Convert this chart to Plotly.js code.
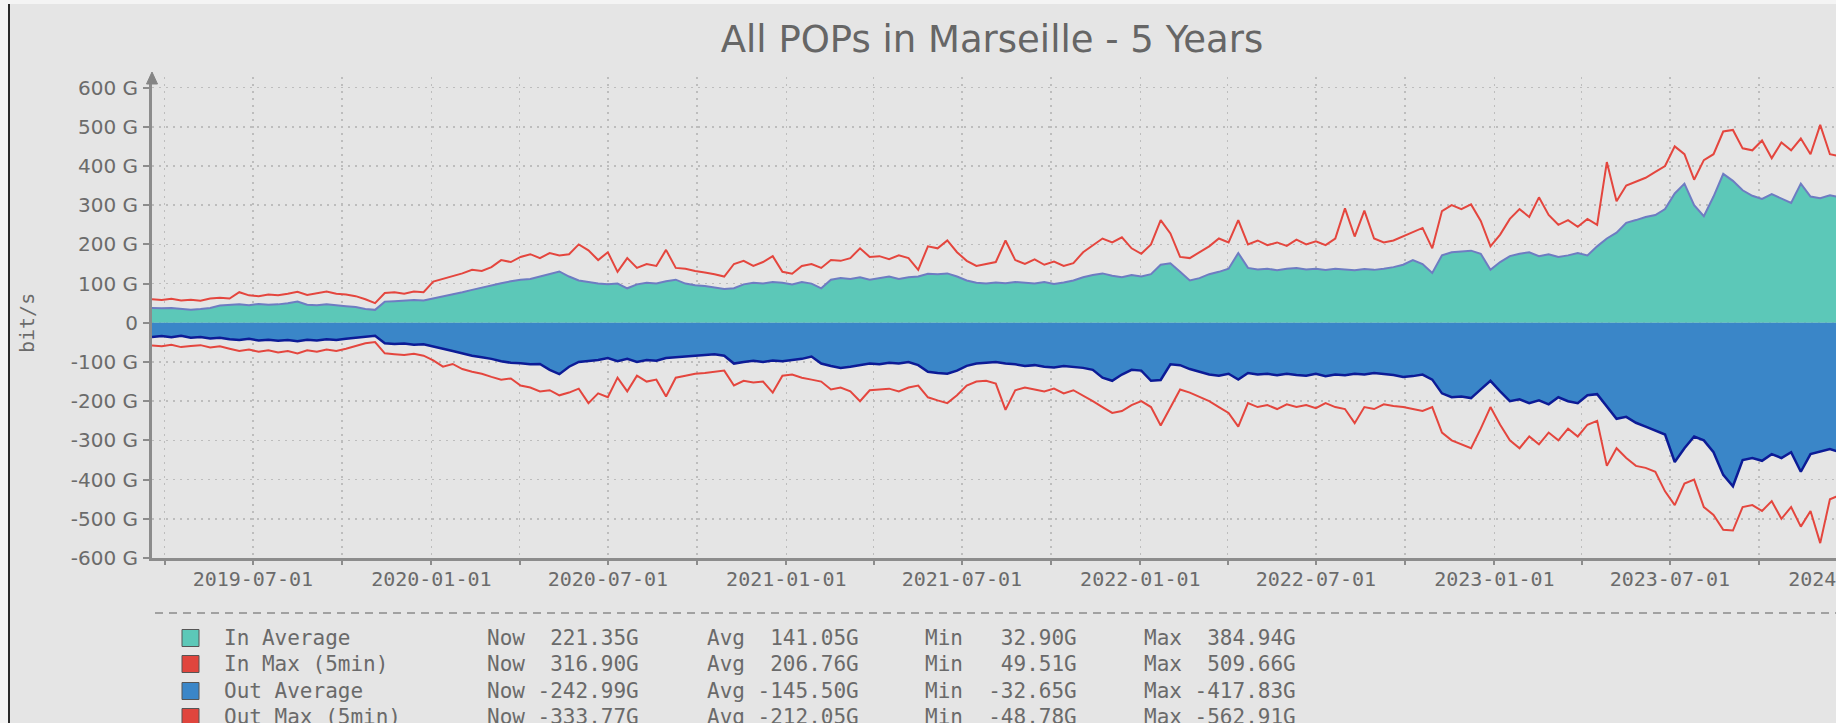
<!DOCTYPE html>
<html>
<head>
<meta charset="utf-8">
<script src="https://cdn.plot.ly/plotly-3.0.1.min.js"></script>
<style>
  html, body { margin: 0; padding: 0; width: 1836px; height: 723px; overflow: hidden; background: #f4f4f4; }
  #frame { position: absolute; left: 10px; top: 4px; width: 1924px; height: 719px; background: #e5e5e5; }
  #edge { position: absolute; left: 8px; top: 4px; width: 2px; height: 719px; background: #2a2a2a; }
  #chart { width: 1924px; height: 719px; }
</style>
</head>
<body>
<div id="frame"><div id="chart"></div></div>
<div id="edge"></div>
<script>
// ---- data (one sample every 10 days from the start date) ----
const startDate = '2019-03-19';
const stepDays = 10;

const inAvg = [
  38, 37, 38, 36, 33, 35, 38, 44, 46, 47,
  45, 48, 46, 47, 50, 54, 46, 45, 47, 44,
  42, 40, 35, 33, 54, 55, 56, 58, 57, 62,
  67, 72, 78, 84, 90, 96, 101, 106, 110, 112,
  118, 124, 131, 118, 108, 104, 100,
  98, 100, 88, 98, 102, 100, 106, 110, 100, 96,
  94, 90, 86, 88, 98, 102, 100, 104, 102, 98,
  104, 100, 88, 110, 114, 112, 116, 110, 114, 118,
  112, 116, 118, 125, 124, 126, 118, 108, 102, 100,
  103, 101, 104, 102, 100, 104, 99, 103, 108, 116,
  122, 126, 120, 116, 122, 118, 124, 148, 152, 130,
  108, 114, 124, 130, 138, 178, 140, 136, 138, 134,
  138, 140, 136, 138, 135, 138, 136, 134, 137, 135,
  138, 142, 148, 160, 150, 127, 172, 180, 182, 184,
  176, 135, 155, 170, 176, 180, 170, 175, 168, 172,
  178, 172, 195, 215, 230, 255, 262, 270, 275, 290,
  330, 355, 300, 272, 322, 380, 362, 338, 324, 316,
  328, 318, 306, 355, 322, 318, 325, 320
];

const inMax = [
  60, 58, 61, 57, 59, 56, 62, 64, 62, 78,
  70, 68, 72, 70, 74, 79, 71, 75, 80, 74,
  72, 68, 60, 50, 76, 78, 74, 80, 78, 105,
  112, 120, 126, 135, 132, 142, 160, 155, 168, 175,
  165, 178, 172, 175, 200, 185, 160,
  180, 130, 165, 140, 150, 145, 186, 140, 138, 132,
  128, 124, 118, 150, 158, 145, 155, 170, 130, 125,
  145, 150, 140, 160, 158, 165, 190, 168, 170, 162,
  172, 165, 135, 195, 190, 210, 180, 158, 145, 150,
  155, 210, 160, 150, 162, 148, 156, 145, 152, 180,
  198, 215, 205, 218, 190, 176, 200, 262, 228, 168,
  165, 180, 195, 215, 205, 262, 200, 210, 198, 205,
  196, 212, 200, 208, 198, 215, 292, 220, 286, 215,
  205, 210, 220, 230, 242, 190, 285, 300, 290, 302,
  260, 195, 225, 265, 290, 270, 320, 275, 250, 262,
  245, 265, 250, 410, 310, 350, 360, 370, 385, 400,
  450, 430, 365, 415, 430, 488, 492, 445, 440, 465,
  420, 460, 440, 470, 430, 505, 430, 425
];

const outAvg = [
  -36, -34, -37, -33, -38, -36, -40, -38, -42, -44,
  -41, -45, -43, -46, -44, -47, -43, -45, -42, -44,
  -41, -38, -35, -33, -52, -54, -53, -56, -55, -60,
  -66, -72, -78, -84, -88, -92, -98, -102, -103, -106,
  -105, -120, -131, -112, -100, -98, -95,
  -90, -98, -92, -100, -95, -97, -90, -88, -86, -84,
  -82, -80, -84, -104, -100, -97, -100, -96, -98, -95,
  -92, -86, -104, -110, -115, -112, -108, -104, -106, -102,
  -104, -100, -108, -125, -128, -130, -122, -110, -104, -102,
  -100, -104, -106, -110, -108, -112, -114, -110, -112, -115,
  -120, -140, -148, -132, -120, -122, -148, -146, -106, -108,
  -118, -125, -132, -135, -130, -145, -128, -132, -130, -134,
  -130, -133, -135, -130, -136, -132, -134, -130, -132, -128,
  -130, -133, -138, -136, -132, -145, -180, -190, -188, -192,
  -170, -148, -175, -200, -195, -205, -198, -208, -190, -200,
  -205, -185, -182, -215, -245, -240, -255, -265, -275, -285,
  -355, -320, -290, -300, -330, -388, -417, -350, -345, -352,
  -335, -345, -330, -380, -335, -328, -322, -330
];

const outMax = [
  -58, -60, -56, -62, -59, -57, -63, -60, -66, -72,
  -68, -74, -70, -76, -72, -78, -70, -74, -68, -72,
  -66, -60, -52, -49, -78, -80, -82, -79, -84, -96,
  -112, -105, -118, -125, -130, -138, -145, -142, -160, -165,
  -175, -172, -185, -178, -168, -205, -180,
  -190, -140, -175, -135, -150, -145, -188, -140, -135, -130,
  -128, -125, -122, -160, -148, -152, -150, -178, -135, -132,
  -140, -145, -150, -170, -165, -175, -200, -172, -170, -168,
  -175, -165, -160, -190, -198, -205, -185, -160, -150, -148,
  -155, -222, -172, -165, -170, -175, -168, -180, -172, -185,
  -200, -215, -230, -225, -210, -200, -215, -262, -215, -170,
  -178, -188, -200, -215, -230, -265, -205, -215, -210, -220,
  -208, -215, -210, -218, -205, -215, -220, -256, -215, -220,
  -208, -212, -215, -220, -225, -215, -280, -300, -310, -320,
  -270, -215, -260, -300, -320, -290, -310, -280, -300, -270,
  -290, -260, -250, -365, -320, -345, -365, -370, -380, -430,
  -465, -410, -400, -470, -490, -528, -530, -470, -465, -480,
  -455, -500, -470, -520, -480, -562, -450, -440
];

const yTickVals = [-600, -500, -400, -300, -200, -100, 0, 100, 200, 300, 400, 500, 600];
const yTickText = ['-600 G', '-500 G', '-400 G', '-300 G', '-200 G', '-100 G', '0',
                   '100 G', '200 G', '300 G', '400 G', '500 G', '600 G'];

const legendNames = ['In Average', 'In Max (5min)', 'Out Average', 'Out Max (5min)'];
const legendColors = ['#5cc8b8', '#e0453d', '#3a86c8', '#e0453d'];
const legendNow = [221.35, 316.90, -242.99, -333.77];
const legendAvg = [141.05, 206.76, -145.50, -212.05];
const legendMin = [32.90, 49.51, -32.65, -48.78];
const legendMax = [384.94, 509.66, -417.83, -562.91];

// ---- dates ----
const t0 = Date.parse(startDate + 'T00:00:00Z');
const dates = inAvg.map((_, i) => new Date(t0 + i * stepDays * 86400000).toISOString().slice(0, 10));

// ---- geometry helpers (page pixels -> paper fractions) ----
const OX = 10, OY = 4;           // frame offset on the page
const L = 142, T = 73, W = 1772, H = 481, R = 10, B = 165;
const px = x => (x - OX - L) / W;
const py = y => (T + H - (y - OY)) / H;

const gray = '#6b6b6b';
const gridStyle = { showgrid: true, gridcolor: '#bdbdbd', gridwidth: 1.5, griddash: '2px,5px' };

const traces = [
  { x: dates, y: inAvg, type: 'scatter', mode: 'lines', fill: 'tozeroy',
    fillcolor: '#5cc8b8', line: { color: '#6e7cc2', width: 2 }, name: legendNames[0] },
  { x: dates, y: outAvg, type: 'scatter', mode: 'lines', fill: 'tozeroy',
    fillcolor: '#3a86c8', line: { color: '#0c1b96', width: 2.5 }, name: legendNames[2] },
  { x: dates, y: inMax, type: 'scatter', mode: 'lines',
    line: { color: '#e4463e', width: 2 }, name: legendNames[1] },
  { x: dates, y: outMax, type: 'scatter', mode: 'lines',
    line: { color: '#e4463e', width: 2 }, name: legendNames[3] }
];

const nb = s => s.replace(/ /g, '\u00a0');
const fmt = (v, w) => (v.toFixed(2) + 'G').padStart(w, ' ');
const rowsY = [638, 664, 691, 717];
const monoFont = { family: 'DejaVu Sans Mono', size: 21, color: '#6a6a6a' };

const annotations = [];
const shapes = [];

legendNames.forEach((name, r) => {
  const yy = py(rowsY[r]);
  shapes.push({ type: 'rect', xref: 'paper', yref: 'paper',
    x0: px(182), x1: px(199), y0: py(rowsY[r] + 8.5), y1: py(rowsY[r] - 8.5),
    fillcolor: legendColors[r], line: { color: '#555555', width: 1 } });
  const cols = [
    [222, name],
    [485, 'Now ' + fmt(legendNow[r], 8)],
    [705, 'Avg ' + fmt(legendAvg[r], 8)],
    [923, 'Min ' + fmt(legendMin[r], 8)],
    [1142, 'Max ' + fmt(legendMax[r], 8)]
  ];
  cols.forEach(([x, txt]) => {
    annotations.push({ xref: 'paper', yref: 'paper', x: px(x), y: yy,
      xanchor: 'left', yanchor: 'middle', showarrow: false, text: nb(txt), font: monoFont });
  });
});

// dashed separator above the legend
shapes.push({ type: 'line', xref: 'paper', yref: 'paper', x0: px(155), x1: px(1940),
  y0: py(613), y1: py(613), line: { color: '#8a8a8a', width: 1.5, dash: '8px,6px' } });

// arrow head on top of the y axis
shapes.push({ type: 'path', xref: 'paper', yref: 'paper',
  path: `M ${px(152)} ${py(72)} L ${px(146.5)} ${py(84)} L ${px(157.5)} ${py(84)} Z`,
  fillcolor: '#858585', line: { color: '#858585', width: 1 } });

// y axis unit label
annotations.push({ xref: 'paper', yref: 'paper', x: px(27), y: py(323),
  xanchor: 'center', yanchor: 'middle', showarrow: false, textangle: -90,
  text: 'bit/s', font: { family: 'DejaVu Sans Mono', size: 20, color: gray } });

const layout = {
  width: 1924, height: 719,
  margin: { l: L, r: R, t: T, b: B, pad: 0 },
  paper_bgcolor: '#e5e5e5', plot_bgcolor: '#e5e5e5',
  showlegend: false, hovermode: false,
  title: { text: 'All POPs in Marseille - 5 Years', xref: 'paper', x: px(992), xanchor: 'center',
    yref: 'container', y: 1 - (39 - OY) / 719, yanchor: 'middle',
    font: { family: 'DejaVu Sans', size: 37, color: '#666666' } },
  xaxis: Object.assign({
    type: 'date', range: ['2019-03-19', '2024-03-19'],
    tick0: '2019-07-01', dtick: 'M6', tickformat: '%Y-%m-%d',
    tickfont: { family: 'DejaVu Sans Mono', size: 20, color: gray },
    ticks: 'outside', ticklen: 4, tickwidth: 2, tickcolor: '#8c8c8c', ticklabelstandoff: -3,
    showline: true, linecolor: '#8c8c8c', linewidth: 3, zeroline: false,
    minor: { dtick: 'M3', showgrid: true, gridcolor: '#bdbdbd', gridwidth: 1.5, griddash: '2px,5px',
             ticks: 'outside', ticklen: 4, tickcolor: '#8c8c8c' }
  }, gridStyle),
  yaxis: Object.assign({
    range: [-600, 627], tickvals: yTickVals, ticktext: yTickText,
    tickfont: { family: 'DejaVu Sans', size: 20, color: gray },
    ticks: 'outside', ticklen: 6, tickwidth: 2, tickcolor: '#8c8c8c', ticklabelstandoff: 1,
    showline: true, linecolor: '#8c8c8c', linewidth: 3, zeroline: false
  }, gridStyle),
  shapes: shapes,
  annotations: annotations
};

Plotly.newPlot('chart', traces, layout, { staticPlot: true, displayModeBar: false });
</script>
</body>
</html>
